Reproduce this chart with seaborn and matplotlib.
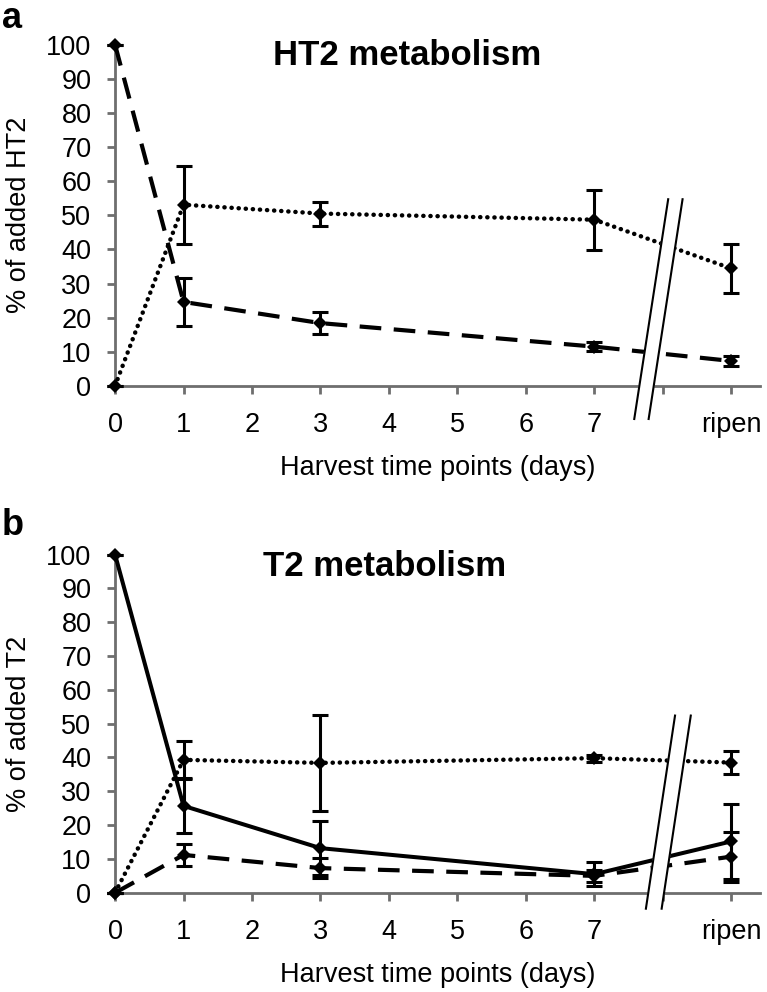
import matplotlib
matplotlib.use("Agg")
import matplotlib.pyplot as plt
import pandas as pd
import seaborn as sns

# x positions: days 0..7, "ripen" drawn at slot 9 (slot 8 is the axis break)
days = [0, 1, 3, 7, 9]
xtick_pos = list(range(10))
xtick_labels = ["0", "1", "2", "3", "4", "5", "6", "7", "", "ripen"]

# panel a: HT2 metabolism
a_dashed = [100, 24.6, 18.4, 11.5, 7.3]
a_dashed_err = [0, 7.0, 3.3, 1.4, 1.5]
a_dotted = [0, 53.1, 50.5, 48.7, 34.4]
a_dotted_err = [0, 11.4, 3.5, 8.8, 7.2]

# panel b: T2 metabolism
b_solid = [100, 25.7, 13.2, 5.5, 15.2]
b_solid_err = [0, 8.0, 8.0, 3.5, 11.0]
b_dashed = [0, 11.2, 7.3, 5.0, 10.7]
b_dashed_err = [0, 3.2, 3.0, 1.8, 7.4]
b_dotted = [0, 39.3, 38.4, 39.8, 38.5]
b_dotted_err = [0, 5.5, 14.2, 1.0, 3.3]

STYLES = {
    "solid": dict(linestyle="-", linewidth=2.9),
    "dashed": dict(linestyle=(0, (5.2, 3.0)), linewidth=3.0),
    "dotted": dict(linestyle=(0, (0.05, 1.55)), linewidth=3.2, dash_capstyle="round"),
}

sns.set_style("ticks")
plt.rcParams["font.family"] = ["Liberation Sans", "DejaVu Sans"]
plt.rcParams["text.color"] = "black"
plt.rcParams["axes.labelcolor"] = "black"

SPINE = "#6e6e6e"
FS = 19.5


def draw_series(ax, y, err, kind):
    df = pd.DataFrame({"day": days, "value": y})
    sns.lineplot(data=df, x="day", y="value", ax=ax, color="black",
                 marker="D", markersize=7, markeredgewidth=0,
                 legend=False, clip_on=False, zorder=3, **STYLES[kind])
    ax.errorbar(days, y, yerr=err, fmt="none", ecolor="black",
                elinewidth=2.2, capsize=6, capthick=2.2, zorder=3,
                clip_on=False)


def draw_break(ax, top, bottom, gap):
    (xt, yt), (xb, yb) = top, bottom
    ax.fill([xt, xt + gap, xb + gap, xb], [yt, yt, yb, yb],
            color="white", zorder=5, clip_on=False)
    for dx in (0, gap):
        ax.plot([xt + dx, xb + dx], [yt, yb], color="black", lw=1.5,
                zorder=6, clip_on=False, solid_capstyle="butt")


def style_axes(ax, ylabel, title, title_xy):
    ax.set_xlim(0, 9.42)
    ax.set_ylim(0, 100)
    ax.set_yticks(range(0, 101, 10))
    ax.set_xticks(xtick_pos)
    ax.set_xticklabels(xtick_labels)
    sns.despine(ax=ax)
    for s in ("left", "bottom"):
        ax.spines[s].set_color(SPINE)
        ax.spines[s].set_linewidth(2)
    ax.tick_params(axis="both", colors=SPINE, labelcolor="black",
                   labelsize=FS, width=2, length=6)
    ax.tick_params(axis="x", pad=13)
    ax.tick_params(axis="y", pad=11)
    ax.set_xlabel("Harvest time points (days)", fontsize=FS, labelpad=12)
    ax.set_ylabel(ylabel, fontsize=FS, labelpad=10)
    ax.text(title_xy[0], title_xy[1], title, fontsize=25, fontweight="bold",
            ha="center", va="center")


fig = plt.figure(figsize=(7.67, 9.92), dpi=100)
ax_a = fig.add_axes([0.150, 0.611, 0.841, 0.344])
ax_b = fig.add_axes([0.150, 0.100, 0.841, 0.341])

draw_series(ax_a, a_dashed, a_dashed_err, "dashed")
draw_series(ax_a, a_dotted, a_dotted_err, "dotted")
style_axes(ax_a, "% of added HT2", "HT2 metabolism", (4.26, 96.8))
draw_break(ax_a, (8.08, 55), (7.58, -10), 0.21)

draw_series(ax_b, b_solid, b_solid_err, "solid")
draw_series(ax_b, b_dashed, b_dashed_err, "dashed")
draw_series(ax_b, b_dotted, b_dotted_err, "dotted")
style_axes(ax_b, "% of added T2", "T2 metabolism", (3.93, 96.4))
draw_break(ax_b, (8.18, 52.7), (7.75, -5.0), 0.23)

fig.text(0.002, 0.999, "a", fontsize=26, fontweight="bold", va="top", ha="left")
fig.text(0.002, 0.488, "b", fontsize=26, fontweight="bold", va="top", ha="left")

fig.savefig("out.png", dpi=100)
